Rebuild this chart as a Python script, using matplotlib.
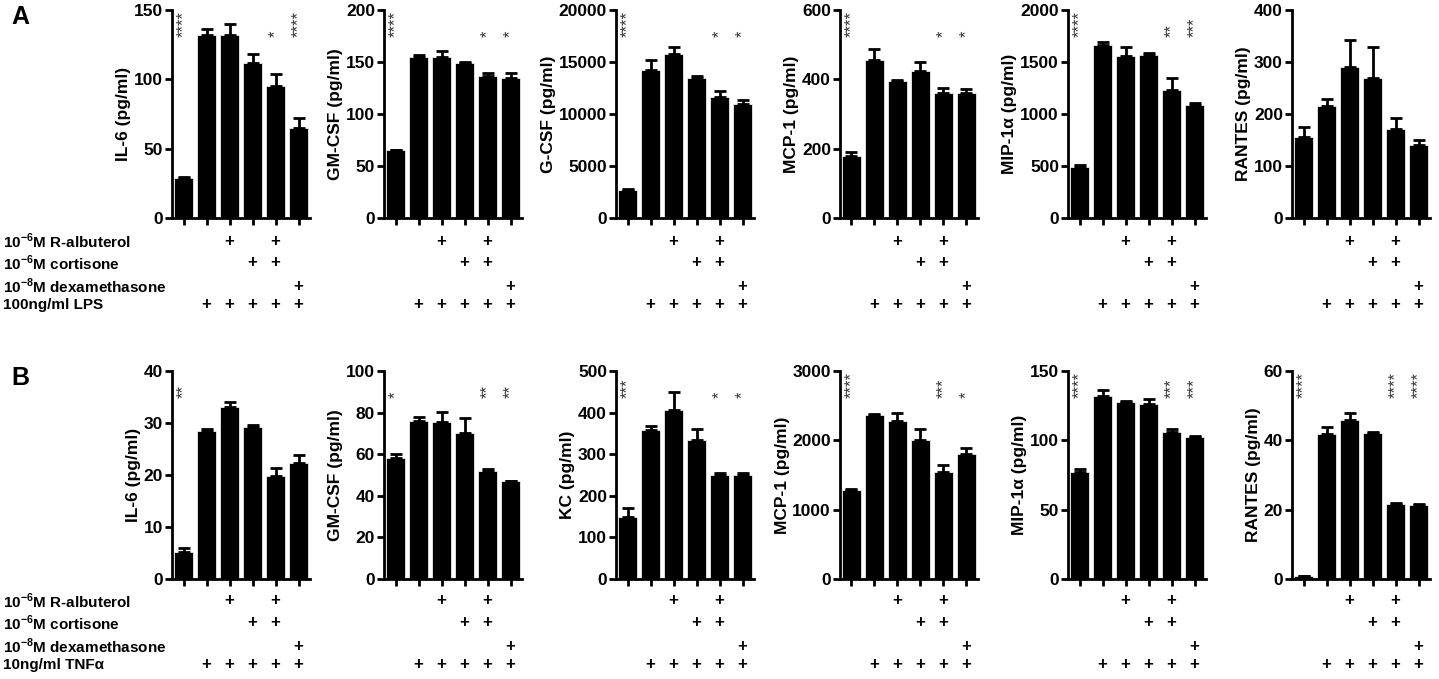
import numpy as np
import matplotlib
matplotlib.use("Agg")
import matplotlib.pyplot as plt
import matplotlib.transforms as mtransforms

plt.rcParams['font.family'] = ['Liberation Sans', 'DejaVu Sans']
plt.rcParams['font.weight'] = 'bold'
plt.rcParams['mathtext.fontset'] = 'custom'
plt.rcParams['mathtext.rm'] = 'Liberation Sans:bold'
plt.rcParams['mathtext.bf'] = 'Liberation Sans:bold'

# treatment grid (same for both rows)
albuterol = [0, 0, 1, 0, 1, 0]
cortisone = [0, 0, 0, 1, 1, 0]
dexa = [0, 0, 0, 0, 0, 1]
stim = [0, 1, 1, 1, 1, 1]

# row A (LPS)
a_labels = ["IL-6 (pg/ml)", "GM-CSF (pg/ml)", "G-CSF (pg/ml)", "MCP-1 (pg/ml)",
            "MIP-1α (pg/ml)", "RANTES (pg/ml)"]
a_vals = [[29, 132, 132, 112, 95, 65],
          [65, 155, 155, 149, 137, 135],
          [2700, 14200, 15800, 13500, 11600, 11000],
          [178, 455, 394, 425, 361, 360],
          [490, 1660, 1560, 1570, 1230, 1085],
          [155, 215, 290, 270, 172, 140]]
a_err = [[0.5, 4, 8, 6, 9, 7],
         [0.5, 2, 6, 1, 2, 4],
         [100, 1000, 600, 200, 600, 300],
         [13, 33, 5, 26, 14, 13],
         [15, 30, 80, 20, 120, 25],
         [20, 13, 52, 58, 21, 10]]
a_stars = [["****", "", "", "", "*", "****"],
           ["****", "", "", "", "*", "*"],
           ["****", "", "", "", "*", "*"],
           ["****", "", "", "", "*", "*"],
           ["****", "", "", "", "**", "***"],
           ["", "", "", "", "", ""]]
a_ymax = [150, 200, 20000, 600, 2000, 400]
a_ystep = [50, 50, 5000, 200, 500, 100]

# row B (TNFa)
b_labels = ["IL-6 (pg/ml)", "GM-CSF (pg/ml)", "KC (pg/ml)", "MCP-1 (pg/ml)",
            "MIP-1α (pg/ml)", "RANTES (pg/ml)"]
b_vals = [[5.2, 28.5, 33, 29.2, 19.8, 22.3],
          [58, 76, 75.5, 70, 52, 47],
          [150, 357, 407, 333, 251, 250],
          [1290, 2360, 2280, 2000, 1540, 1810],
          [77.5, 132, 127.5, 126.5, 106, 102.5],
          [0.8, 41.8, 46, 42, 21.5, 21.3]]
b_err = [[0.7, 0.4, 1.0, 0.5, 1.5, 1.5],
         [2, 2, 5, 7.5, 1, 0.3],
         [20, 11, 43, 27, 3, 5],
         [8, 25, 120, 160, 100, 80],
         [1.5, 4.5, 0.6, 3, 2.5, 0.3],
         [0.1, 2, 1.8, 0.3, 0.5, 0.3]]
b_stars = [["**", "", "", "", "", ""],
           ["*", "", "", "", "**", "**"],
           ["***", "", "", "", "*", "*"],
           ["****", "", "", "", "***", "*"],
           ["****", "", "", "", "***", "***"],
           ["****", "", "", "", "****", "****"]]
b_ymax = [40, 100, 500, 3000, 150, 60]
b_ystep = [10, 20, 100, 1000, 50, 20]

row_names_a = [r"10$^{-6}$M R-albuterol", r"10$^{-6}$M cortisone",
               r"10$^{-8}$M dexamethasone", "100ng/ml LPS"]
row_names_b = [r"10$^{-6}$M R-albuterol", r"10$^{-6}$M cortisone",
               r"10$^{-8}$M dexamethasone", "10ng/ml TNFα"]

W, H = 1439, 679
fig = plt.figure(figsize=(W / 100, H / 100), dpi=100)

lefts = [172, 384, 616, 840, 1068, 1292]
ax_w = 138


def draw_row(top, bottom, plus_ys, labels, vals, errs, stars, ymaxs, ysteps, names, letter):
    fig.text(11 / W, 1 - (top + 7) / H, letter, fontsize=18, fontweight='bold',
             ha='left', va='center')
    for yy, nm in zip(plus_ys, names):
        fig.text(3 / W, 1 - yy / H, nm, fontsize=11, fontweight='bold',
                 ha='left', va='center')
    x = np.arange(6)
    grid = [albuterol, cortisone, dexa, stim]
    for i in range(6):
        ax = fig.add_axes([lefts[i] / W, 1 - bottom / H, ax_w / W, (bottom - top) / H])
        v = np.array(vals[i])
        e = np.array(errs[i])
        ax.bar(x, v, width=0.82, color='black', edgecolor='white', linewidth=0.5)
        ax.errorbar(x, v, yerr=[np.zeros(6), e], fmt='none', ecolor='black',
                    elinewidth=2, capsize=4, capthick=2)
        ax.set_xlim(-0.5, 5.5)
        ax.set_ylim(0, ymaxs[i])
        ax.set_yticks(np.arange(0, ymaxs[i] + 1, ysteps[i]))
        ax.set_xticks(x)
        ax.set_xticklabels([])
        for s in ['top', 'right']:
            ax.spines[s].set_visible(False)
        for s in ['left', 'bottom']:
            ax.spines[s].set_linewidth(2)
        ax.tick_params(axis='both', width=2, length=5, labelsize=12.5, pad=1.5)
        for t in ax.get_yticklabels():
            t.set_fontweight('bold')
        ax.set_ylabel(labels[i], fontsize=12.5, fontweight='bold', labelpad=2)
        for j, st in enumerate(stars[i]):
            if st:
                ax.text(j, 0.87, st, transform=ax.get_xaxis_transform(), rotation=90,
                        ha='center', va='bottom', fontsize=12, fontweight='normal',
                        color='#333333')
        trans = mtransforms.blended_transform_factory(ax.transData, fig.transFigure)
        for r, yy in enumerate(plus_ys):
            for j in range(6):
                if grid[r][j]:
                    ax.text(j, 1 - yy / H, "+", transform=trans, ha='center', va='center',
                            fontsize=12, fontweight='bold', clip_on=False)


draw_row(10, 218, [241, 263, 286, 305], a_labels, a_vals, a_err, a_stars,
         a_ymax, a_ystep, row_names_a, "A")
draw_row(371, 579, [601, 623, 646, 665], b_labels, b_vals, b_err, b_stars,
         b_ymax, b_ystep, row_names_b, "B")

fig.savefig("out.png", dpi=100)
